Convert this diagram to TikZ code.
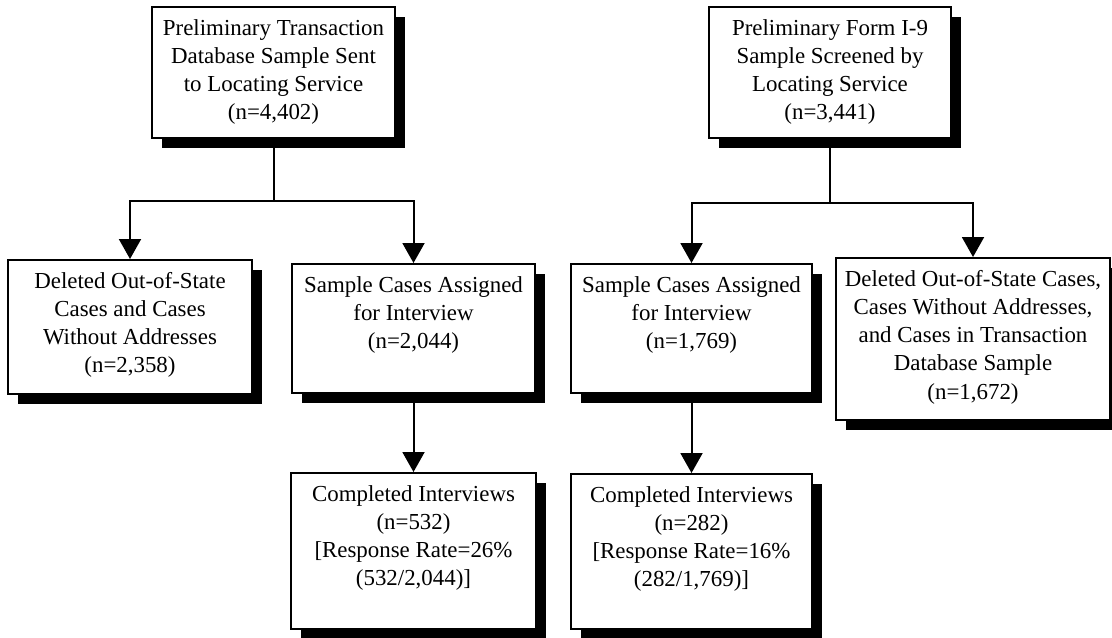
\documentclass[tikz,border=0pt]{standalone}
\usepackage{fontspec}
\setmainfont{Liberation Serif}
\usetikzlibrary{arrows.meta,shadows}
\newcommand\bxt[3]{\parbox[c][#2][t]{#1}{\centering\rule{0pt}{14pt}\ignorespaces #3}}
\tikzset{
  flowbox/.style={draw, line width=1pt, fill=white, inner sep=0pt, anchor=north,
    font=\fontsize{11.45pt}{14.15pt}\selectfont,
    general shadow={shadow xshift=4.75pt, shadow yshift=-4.75pt, fill=black}},
  conn/.style={line width=1pt},
  arr/.style={line width=1pt, -{Triangle[width=11pt,length=10pt]}}
}
\begin{document}
\begin{tikzpicture}[x=0.5pt,y=-0.5pt]
\useasboundingbox (0,0) rectangle (1112,637);
\node[flowbox] (A) at (273.5,6) {\bxt{121.5pt}{65.5pt}{Preliminary Transaction\\ Database Sample Sent\\ to Locating Service\\ (n=4,402)}};
\node[flowbox] (E) at (830,6) {\bxt{121pt}{65.5pt}{Preliminary Form I-9\\ Sample Screened by\\ Locating Service\\ (n=3,441)}};
\node[flowbox] (B) at (130,259) {\bxt{122pt}{67pt}{Deleted Out-of-State\\ Cases and Cases\\ Without Addresses\\ (n=2,358)}};
\node[flowbox] (C) at (413.5,263) {\bxt{121.5pt}{64.5pt}{Sample Cases Assigned\\ for Interview\\ (n=2,044)}};
\node[flowbox] (F) at (691.5,263) {\bxt{120.5pt}{64.5pt}{Sample Cases Assigned\\ for Interview\\ (n=1,769)}};
\node[flowbox] (G) at (973,257) {\bxt{137pt}{81pt}{Deleted Out-of-State Cases,\\ Cases Without Addresses,\\ and Cases in Transaction\\ Database Sample\\ (n=1,672)}};
\node[flowbox] (D) at (413.5,472) {\bxt{122.5pt}{78pt}{Completed Interviews\\ (n=532)\\ {[}Response Rate=26\%\\ (532/2,044)]}};
\node[flowbox] (H) at (691.5,473) {\bxt{120.5pt}{77.5pt}{Completed Interviews\\ (n=282)\\ {[}Response Rate=16\%\\ (282/1,769)]}};
\path (A.south) ++(0,62) coordinate (jl);
\path (E.south) ++(0,64) coordinate (jr);
\draw[conn] (A.south) -- (jl);
\draw[arr] (jl) -| (B.north);
\draw[arr] (jl) -| (C.north);
\draw[conn] (E.south) -- (jr);
\draw[arr] (jr) -| (F.north);
\draw[arr] (jr) -| (G.north);
\draw[arr] (C.south) -- (D.north);
\draw[arr] (F.south) -- (H.north);
\end{tikzpicture}
\end{document}
